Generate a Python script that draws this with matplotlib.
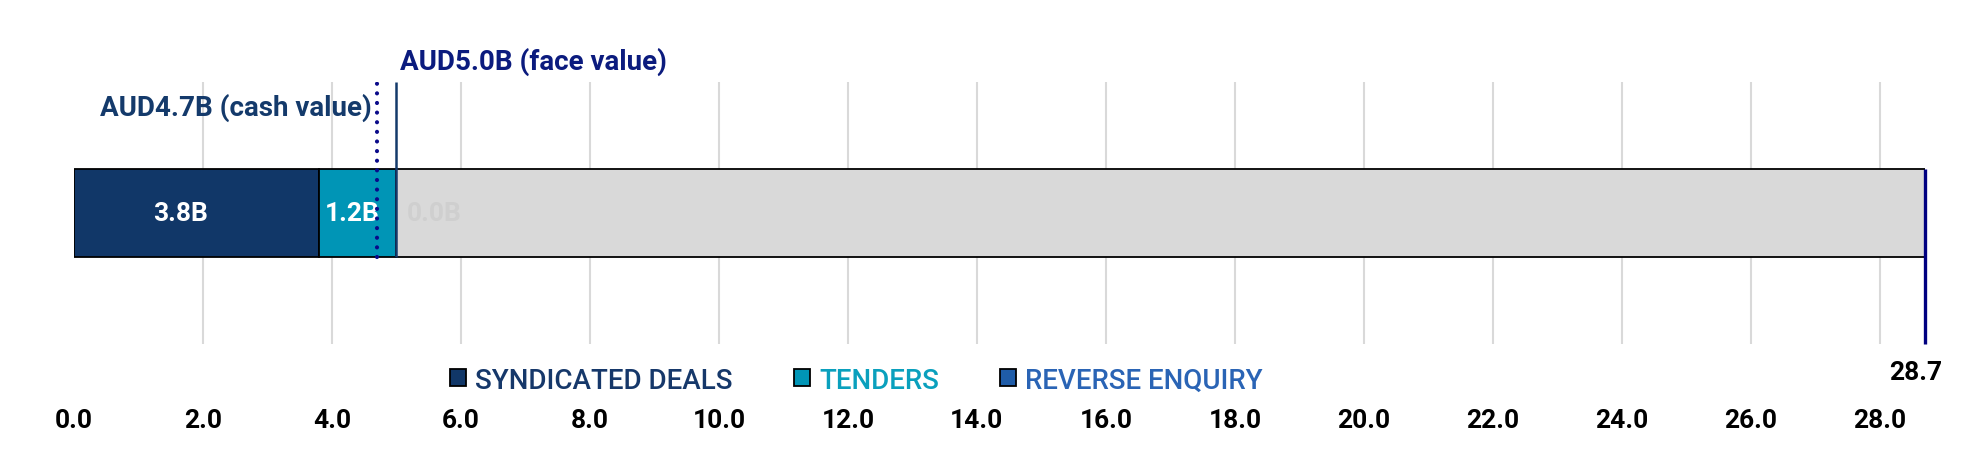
import numpy as np
import matplotlib
matplotlib.use("Agg")
import matplotlib.pyplot as plt
from matplotlib.patches import Patch

# data
segments = ["SYNDICATED DEALS", "TENDERS", "REVERSE ENQUIRY"]
values = [3.8, 1.2, 0.0]
labels = ["3.8B", "1.2B", "0.0B"]
total = 28.7
cash_value = 4.7
face_value = 5.0
ticks = np.arange(0, 29, 2)

seg_colors = ["#113768", "#0095b6", "#1f5ca8"]
text_colors = ["#16386a", "#0aa0bd", "#2a64b5"]

plt.rcParams["font.family"] = ["Roboto", "DejaVu Sans"]

fig = plt.figure(figsize=(19.77, 4.52), dpi=100)
ax = fig.add_axes([0.0374, 0.2367, 0.9363, 0.5797])
ax.set_xlim(0, total)
ax.set_ylim(-1, 1)
bar_h = 0.672

# grid
ax.set_xticks(ticks)
ax.set_xticklabels(["%.1f" % t for t in ticks], fontsize=19, fontweight="bold")
ax.tick_params(axis="x", length=0, pad=46)
ax.set_yticks([])
ax.grid(axis="x", color="#d9d9d9", linewidth=1.5)
ax.xaxis.get_gridlines()[0].set_visible(False)
ax.set_axisbelow(True)
for s in ax.spines.values():
    s.set_visible(False)

# stacked bar
left = 0
for seg, v, c in zip(segments, values, seg_colors):
    ax.barh(0, v, left=left, height=bar_h, color=c, edgecolor="black", linewidth=1.3, zorder=3)
    left += v
ax.barh(0, total - left, left=left, height=bar_h, color="#d9d9d9", edgecolor="black",
        linewidth=1.3, zorder=2)

# segment labels (first one sits a bit left of centre in the original)
ax.text(values[0] / 2 - 0.25, 0, labels[0], ha="center", va="center", color="white",
        fontsize=19, fontweight="bold", zorder=5)
ax.text(values[0] + values[1] / 2 - 0.08, 0, labels[1], ha="center", va="center", color="white",
        fontsize=19, fontweight="bold", zorder=5)
ax.text(sum(values) + 0.16, 0, labels[2], ha="left", va="center", color="#cfcfcf",
        fontsize=19, fontweight="bold", zorder=5)

# reference lines
ax.vlines(face_value, -bar_h / 2, 1, color="#143a6b", linewidth=1.8, zorder=4)
ax.vlines(cash_value, -bar_h / 2, 1, color="#0a0a8a", linewidth=3,
          linestyles=(0, (0.01, 2.3)), capstyle="round", zorder=6)
ax.vlines(total, -1, bar_h / 2, color="#000080", linewidth=2.4, zorder=6, clip_on=False)

tr = ax.get_xaxis_transform()
ax.text(face_value + 0.05, 1.08, "AUD5.0B (face value)", transform=tr, ha="left", va="center",
        color="#0b1b7e", fontsize=20, fontweight="bold")
ax.text(cash_value - 0.08, 0.904, "AUD4.7B (cash value)", transform=tr, ha="right", va="center",
        color="#143a6b", fontsize=20, fontweight="bold")
ax.text(total - 0.15, -0.107, "%.1f" % total, transform=tr, ha="center", va="center",
        color="black", fontsize=19, fontweight="bold")

# legend
handles = [Patch(facecolor=c, edgecolor="black", linewidth=1.3) for c in seg_colors]
leg = fig.legend(handles, segments, loc="center left", bbox_to_anchor=(0.2276, 0.157), ncol=3,
                 frameon=False, prop={"size": 20, "weight": "medium"}, labelcolor=text_colors,
                 handlelength=0.58, handleheight=0.58, handletextpad=0.33, columnspacing=2.2,
                 borderpad=0, borderaxespad=0)

fig.savefig("out.png", dpi=100)
